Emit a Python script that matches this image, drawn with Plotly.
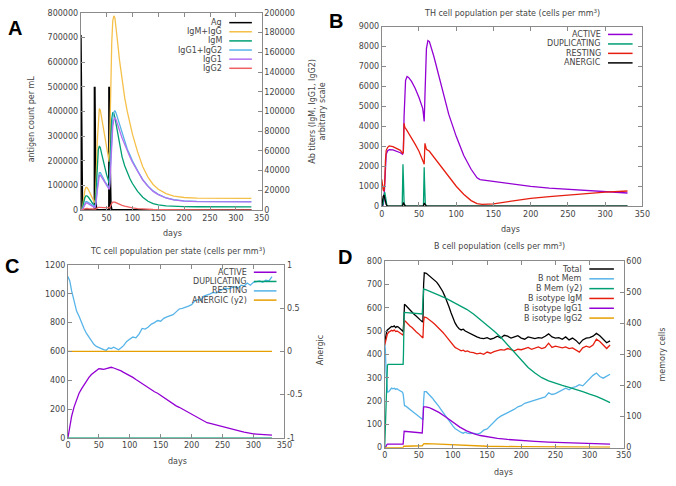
import plotly.graph_objects as go

W, H = 676, 486

# ---------------- Panel A data ----------------
A_days = [0, 2, 4, 6, 8, 10, 12, 15, 18, 21, 24, 27, 28, 29, 30, 32, 34, 36, 38, 41, 44, 47, 50, 53, 55, 56, 57, 58, 60, 62, 64, 66, 68, 71, 75, 80, 85, 90, 95, 100, 110, 120, 130, 140, 150, 165, 180, 200, 225, 250, 280, 310, 330]
A_igm_igg = [0, 500, 5000, 13000, 20000, 23000, 23000, 20500, 17000, 13000, 10000, 7500, 9000, 18000, 34000, 69000, 94000, 103000, 101000, 91500, 80000, 70000, 62000, 54000, 49000, 67000, 98000, 129000, 170000, 192000, 197000, 195000, 187000, 172000, 152000, 131000, 114000, 100000, 88000, 77000, 59000, 44000, 33500, 26000, 21200, 16700, 14200, 12800, 12200, 11900, 11900, 11900, 11900]
A_igm = [0, 500, 3500, 8500, 12500, 14500, 14500, 13000, 10500, 8000, 6000, 4500, 5500, 12000, 24000, 47000, 61000, 65000, 63000, 56000, 48000, 41000, 36000, 31000, 27000, 40000, 58000, 74000, 92000, 99000, 98000, 94000, 88000, 78000, 66000, 54000, 45000, 38000, 32000, 27000, 19000, 13000, 9000, 6500, 5200, 4200, 3700, 3500, 3400, 3300, 3300, 3300, 3300]
A_igg12 = [0, 0, 1500, 4500, 7500, 8500, 8500, 7500, 6500, 5000, 4000, 3000, 3500, 6000, 10000, 22000, 33000, 38000, 38000, 35500, 32000, 29000, 26500, 24000, 22500, 27000, 40000, 55000, 78000, 93000, 99000, 101000, 99000, 94000, 86000, 77000, 69000, 62000, 56000, 50000, 40000, 31000, 24500, 19500, 16000, 12500, 10500, 9300, 8800, 8600, 8600, 8600, 8600]
A_igg1 = [0, 0, 1200, 3800, 6300, 7200, 7200, 6300, 5500, 4200, 3300, 2500, 3000, 5000, 8500, 19500, 30000, 35000, 35500, 33000, 30000, 27000, 24500, 22200, 21000, 24000, 35000, 48000, 70000, 85000, 91500, 93500, 92000, 88000, 81000, 73000, 66000, 59500, 54000, 48500, 39000, 30500, 24000, 19000, 15700, 12300, 10300, 9100, 8600, 8400, 8400, 8400, 8400]
A_igg2 = [0, 0, 300, 900, 1400, 1600, 1600, 1400, 1200, 900, 700, 500, 600, 1000, 1500, 2300, 2700, 2800, 2700, 2500, 2300, 2100, 1900, 1800, 1700, 2200, 3500, 5000, 7000, 8000, 8300, 8100, 7600, 6800, 5800, 4800, 4000, 3300, 2700, 2200, 1500, 1000, 750, 600, 500, 400, 300, 250, 220, 200, 200, 200, 200]
A_ag_days = [0, 0.5, 1, 1.5, 2, 3, 26.9, 27, 27.5, 28, 28.5, 29, 30, 54.9, 55, 55.5, 56, 56.5, 57, 58, 60, 330]
A_ag = [710000, 500000, 300000, 120000, 30000, 0, 0, 500000, 400000, 250000, 100000, 30000, 0, 0, 500000, 420000, 300000, 200000, 100000, 20000, 0, 0]

# ---------------- Panel B data ----------------
B_act_days = [0, 2, 3, 4, 5, 6, 8, 10, 15, 20, 25, 28, 29, 30, 31, 32, 34, 36, 40, 45, 50, 55, 56, 57, 58, 59, 60, 62, 64, 70, 80, 90, 100, 110, 120, 128, 132, 150, 175, 200, 225, 250, 275, 300, 330]
B_active = [0, 50, 300, 1200, 2200, 2600, 2780, 2830, 2820, 2760, 2680, 2600, 2700, 4500, 5800, 6300, 6500, 6450, 6250, 5900, 5450, 4900, 4600, 4250, 5500, 7000, 7900, 8300, 8250, 7500, 6000, 4600, 3500, 2550, 1850, 1420, 1330, 1230, 1100, 990, 900, 840, 780, 720, 660]
B_rest_days = [0, 1, 2, 3, 4, 5, 6, 8, 10, 15, 20, 25, 28, 29, 30, 31, 33, 40, 45, 50, 55, 56, 57, 58, 59, 60, 64, 70, 80, 90, 100, 110, 120, 128, 135, 150, 175, 200, 225, 250, 275, 300, 330]
B_resting = [1350, 1000, 800, 750, 1200, 2300, 2800, 2950, 3020, 2980, 2900, 2800, 2650, 2700, 4150, 3950, 3850, 3450, 3100, 2750, 2350, 2200, 2100, 3150, 3000, 2850, 2750, 2450, 1950, 1450, 1000, 600, 280, 130, 90, 120, 250, 390, 480, 560, 640, 700, 760]
B_dup_days = [0, 2, 3, 4, 5, 6, 7, 27.5, 28, 28.5, 29, 30, 31, 56, 56.5, 57, 57.5, 58.5, 60, 330]
B_dup = [0, 100, 500, 700, 500, 100, 0, 0, 800, 2100, 1500, 200, 0, 0, 1000, 1950, 1200, 100, 0, 0]
B_anr_days = [0, 1, 2, 3, 4, 5, 6, 8, 28, 29, 30, 31, 32, 56, 57, 58, 59, 60, 330]
B_anergic = [0, 300, 500, 550, 450, 250, 80, 0, 0, 180, 100, 20, 0, 0, 150, 100, 20, 0, 0]

# ---------------- Panel C data ----------------
C_days = [0, 3, 6, 10, 14, 18, 22, 26, 30, 34, 38, 42, 46, 50, 54, 58, 62, 66, 70, 74, 78, 82, 86, 90, 95, 100, 105, 110, 115, 120, 125, 130, 135, 140, 145, 150, 155, 160, 165, 170, 175, 180, 185, 190, 195, 200, 205, 210, 215, 220, 225, 230, 235, 240, 245, 250, 255, 260, 265, 270, 275, 280, 285, 290, 295, 300, 305, 310, 315, 320, 325, 330]
C_resting = [1120, 1090, 1020, 940, 880, 845, 800, 760, 725, 700, 680, 650, 635, 625, 620, 612, 608, 625, 620, 630, 618, 612, 625, 640, 670, 685, 700, 695, 720, 760, 755, 770, 790, 800, 815, 810, 830, 840, 850, 855, 875, 895, 900, 905, 915, 925, 950, 960, 955, 985, 990, 1000, 1010, 1005, 1020, 1030, 1040, 1035, 1045, 1050, 1040, 1060, 1055, 1075, 1060, 1080, 1085, 1090, 1080, 1095, 1090, 1120]
C_active = [0, 80, 150, 215, 270, 310, 340, 370, 400, 420, 440, 455, 470, 480, 478, 475, 480, 485, 490, 485, 480, 470, 465, 455, 445, 435, 420, 405, 390, 380, 365, 345, 330, 320, 310, 295, 280, 262, 248, 235, 222, 212, 200, 188, 172, 160, 150, 140, 125, 112, 105, 100, 94, 88, 82, 76, 70, 64, 60, 55, 50, 45, 40, 35, 32, 28, 26, 24, 22, 20, 19, 18]
C_flat_days = [0, 330]
C_dup = [0, 0]
C_anergic = [0, 0]
C_y2_tickvals = [-1, -0.5, 0, 0.5, 1]
C_y2_ticktext = ["-1", "-0.5", "0", "0.5", "1"]

# ---------------- Panel D data ----------------
D_days = [0, 1, 2, 3, 4, 6, 8, 10, 12, 14, 16, 18, 20, 22, 24, 26, 27, 28, 29, 31, 34, 37, 40, 43, 46, 49, 52, 55, 56, 57, 58, 61, 64, 67, 70, 73, 76, 79, 82, 85, 88, 91, 94, 97, 100, 103, 106, 109, 112, 115, 118, 121, 125, 130, 135, 140, 145, 150, 155, 160, 165, 170, 175, 180, 185, 190, 195, 200, 205, 210, 215, 220, 225, 230, 235, 240, 245, 250, 255, 260, 265, 270, 275, 280, 285, 290, 295, 300, 305, 310, 315, 320, 325, 330]
D_total = [450, 470, 490, 500, 505, 510, 515, 520, 518, 522, 515, 520, 517, 512, 505, 500, 498, 540, 615, 610, 600, 590, 580, 572, 565, 555, 548, 540, 545, 700, 750, 748, 740, 735, 728, 720, 710, 698, 685, 670, 650, 630, 605, 580, 555, 535, 520, 510, 505, 508, 500, 495, 490, 480, 475, 470, 468, 472, 465, 470, 478, 470, 482, 478, 470, 475, 480, 470, 465, 475, 470, 468, 472, 470, 478, 488, 475, 470, 472, 465, 475, 462, 470, 460, 445, 462, 470, 472, 478, 490, 480, 465, 450, 458]
D_igm = [440, 455, 470, 480, 488, 495, 500, 503, 500, 505, 498, 500, 497, 493, 490, 485, 482, 510, 545, 540, 530, 522, 515, 505, 497, 490, 480, 472, 470, 540, 560, 558, 552, 545, 538, 530, 522, 515, 505, 495, 485, 473, 462, 450, 440, 430, 425, 418, 415, 418, 412, 415, 410, 408, 402, 405, 400, 410, 405, 412, 415, 420, 418, 425, 420, 415, 422, 420, 425, 430, 422, 428, 432, 425, 430, 448, 430, 435, 430, 428, 432, 425, 428, 420, 410, 428, 435, 430, 440, 465, 455, 440, 425, 440]
D_notmem = [450, 420, 330, 250, 238, 240, 250, 255, 252, 255, 250, 253, 248, 245, 240, 238, 230, 185, 180, 178, 170, 163, 158, 150, 143, 137, 130, 122, 120, 200, 240, 240, 232, 222, 212, 200, 190, 178, 165, 152, 140, 128, 115, 103, 92, 82, 75, 70, 65, 62, 66, 62, 60, 62, 58, 62, 75, 80, 95, 110, 125, 135, 142, 148, 155, 165, 175, 180, 190, 195, 200, 205, 210, 215, 218, 235, 228, 232, 240, 245, 255, 248, 258, 262, 270, 265, 280, 295, 310, 320, 305, 298, 305, 315]
D_mem_days = [0, 1, 2, 3, 4, 5, 27, 27.5, 28, 28.5, 55, 55.5, 56, 56.5, 57, 60, 70, 80, 90, 100, 110, 120, 130, 140, 150, 160, 170, 180, 190, 200, 210, 220, 230, 240, 250, 260, 270, 280, 290, 300, 310, 320, 330]
D_mem = [0, 60, 150, 230, 265, 268, 268, 300, 420, 435, 430, 460, 490, 505, 510, 508, 500, 490, 480, 468, 456, 445, 430, 412, 395, 375, 355, 330, 305, 280, 258, 240, 225, 215, 207, 200, 194, 188, 180, 172, 165, 155, 145]
D_igg1_days = [0, 2, 3, 4, 27, 28, 28.5, 55, 56, 57, 60, 65, 70, 80, 90, 100, 110, 120, 130, 140, 150, 165, 180, 200, 220, 240, 260, 280, 300, 330]
D_igg1 = [0, 5, 12, 15, 15, 50, 70, 63, 120, 175, 175, 172, 165, 150, 130, 108, 88, 72, 60, 52, 46, 40, 35, 30, 27, 24, 22, 20, 18, 15]
D_igg2_days = [0, 27, 28, 55, 57, 60, 80, 100, 120, 150, 200, 250, 330]
D_igg2 = [0, 1, 6, 8, 16, 17, 15, 12, 9, 6, 4, 3, 2]

# ---------------- colours ----------------
BLACK = "#000000"
YELLOW = "#f5c04a"
GREEN = "#009e73"
LBLUE = "#56b4e9"
LVIOLET = "#b070f0"
LRED = "#f06060"
PURPLE = "#9400d3"
RED = "#e51e10"
ORANGE = "#e69f00"

FONT = "DejaVu Sans"
TXT = "#444444"
AX = "#8a8a8a"

fig = go.Figure()

def fx(p):
    return p / W

def fy(p):
    return 1 - p / H

def line(x, y, color, xa, ya, w=1.3):
    fig.add_trace(go.Scatter(x=x, y=y, mode="lines", line=dict(color=color, width=w),
                             xaxis=xa, yaxis=ya, showlegend=False, hoverinfo="skip"))

# Panel A
line(A_days, A_igm_igg, YELLOW, "x", "y2")
line(A_days, A_igm, GREEN, "x", "y2")
line(A_days, A_igg12, LBLUE, "x", "y2")
line(A_days, A_igg1, LVIOLET, "x", "y2")
line(A_days, A_igg2, LRED, "x", "y2")
line(A_ag_days, A_ag, BLACK, "x", "y", 2)

# Panel B
line(B_act_days, B_active, PURPLE, "x2", "y3")
line(B_dup_days, B_dup, GREEN, "x2", "y3")
line(B_rest_days, B_resting, RED, "x2", "y3")
line(B_anr_days, B_anergic, BLACK, "x2", "y3")

# Panel C
line(C_days, C_active, PURPLE, "x3", "y4")
line(C_flat_days, C_dup, GREEN, "x3", "y4")
line(C_days, C_resting, LBLUE, "x3", "y4")
line(C_flat_days, C_anergic, ORANGE, "x3", "y5")

# Panel D
line(D_days, D_total, BLACK, "x4", "y6")
line(D_days, D_notmem, LBLUE, "x4", "y6")
line(D_mem_days, D_mem, GREEN, "x4", "y7")
line(D_days, D_igm, RED, "x4", "y6")
line(D_igg1_days, D_igg1, PURPLE, "x4", "y6")
line(D_igg2_days, D_igg2, ORANGE, "x4", "y6")

tickfont = dict(family=FONT, size=8, color=TXT)

def xax(x0, x1, anchor):
    return dict(domain=[fx(x0), fx(x1)], range=[0, 350], dtick=50, tick0=0,
                showline=True, mirror="ticks", linecolor=AX, linewidth=1,
                ticks="inside", ticklen=4, tickcolor=AX, showgrid=False,
                zeroline=False, tickfont=tickfont, anchor=anchor, fixedrange=True,
                tickformat="d")

def yax(y0, y1, rng, dtick, anchor, mirror="ticks", side="left", overlaying=None):
    d = dict(domain=[fy(y1), fy(y0)], range=rng, dtick=dtick, tick0=rng[0],
             showline=True, mirror=mirror, linecolor=AX, linewidth=1,
             ticks="inside", ticklen=4, tickcolor=AX, showgrid=False,
             zeroline=False, tickfont=tickfont, anchor=anchor, side=side,
             fixedrange=True, tickformat="d")
    if overlaying:
        d["overlaying"] = overlaying
    return d

# pixel frames
A = (79, 263, 9, 210)
B = (385, 650, 23, 206)
C = (66, 286, 266, 442)
D = (388, 631, 262, 452)

yc2 = yax(C[2], C[3], [-1, 1], 0.5, "x3", mirror=False, side="right", overlaying="y4")
yc2.pop("tickformat")
yc2.pop("dtick")
yc2.update(tickmode="array", tickvals=C_y2_tickvals, ticktext=C_y2_ticktext)

layout = dict(
    width=W, height=H, margin=dict(l=0, r=0, t=0, b=0),
    paper_bgcolor="white", plot_bgcolor="white", showlegend=False,
    xaxis=xax(A[0], A[1], "y"),
    yaxis=yax(A[2], A[3], [0, 800000], 100000, "x", mirror=False),
    yaxis2=yax(A[2], A[3], [0, 200000], 20000, "x", mirror=False, side="right", overlaying="y"),
    xaxis2=xax(B[0], B[1], "y3"),
    yaxis3=yax(B[2], B[3], [0, 9000], 1000, "x2"),
    xaxis3=xax(C[0], C[1], "y4"),
    yaxis4=yax(C[2], C[3], [0, 1200], 200, "x3", mirror=False),
    yaxis5=yc2,
    xaxis4=xax(D[0], D[1], "y6"),
    yaxis6=yax(D[2], D[3], [0, 800], 100, "x4", mirror=False),
    yaxis7=yax(D[2], D[3], [0, 600], 100, "x4", mirror=False, side="right", overlaying="y6"),
)
fig.update_layout(**layout)

ann = []
shapes = []

def text(px, py, s, size=8, angle=0, xanchor="center", color=TXT, bold=False, family=FONT):
    ann.append(dict(x=fx(px), y=fy(py), xref="paper", yref="paper", text=("<b>%s</b>" % s) if bold else s,
                    showarrow=False, textangle=angle, xanchor=xanchor, yanchor="middle",
                    font=dict(family=family, size=size, color=color)))

def legend(xr, lx0, lx1, rows, names, colors):
    for yy, n, c in zip(rows, names, colors):
        text(xr, yy, n, xanchor="right")
        shapes.append(dict(type="line", xref="paper", yref="paper", x0=fx(lx0), x1=fx(lx1),
                           y0=fy(yy), y1=fy(yy), line=dict(color=c, width=1.5)))

legend(225, 230, 253, [19, 28.3, 37.6, 46.9, 56.2, 65.5],
       ["Ag", "IgM+IgG", "IgM", "IgG1+IgG2", "IgG1", "IgG2"],
       [BLACK, YELLOW, GREEN, LBLUE, LVIOLET, LRED])
legend(610, 615, 640, [31, 40.7, 50.3, 60],
       ["ACTIVE", "DUPLICATING", "RESTING", "ANERGIC"],
       [PURPLE, GREEN, RED, BLACK])
legend(250, 255, 278, [273.3, 282.7, 292.3, 301.7],
       ["ACTIVE", "DUPLICATING", "RESTING", "ANERGIC (y2)"],
       [PURPLE, GREEN, LBLUE, ORANGE])
legend(591, 596, 621, [270, 280, 290, 300, 310, 320],
       ["Total", "B not Mem", "B Mem (y2)", "B isotype IgM", "B isotype IgG1", "B isotype IgG2"],
       [BLACK, LBLUE, GREEN, RED, PURPLE, ORANGE])

# axis titles
text(29, 117, "antigen count per mL", angle=-90)
text(320, 109, "Ab titers (IgM, IgG1, IgG2)<br>arbitrary scale", angle=-90)
text(172, 234, "days")
text(517, 9, "TH cell population per state (cells per mm<sup>3</sup>)")
text(516, 230, "days")
text(177, 252, "TC cell population per state (cells per mm<sup>3</sup>)")
text(177, 466, "days")
text(323, 353, "Anergic", angle=-90)
text(505, 247, "B cell population (cells per mm<sup>3</sup>)")
text(509, 477, "days")
text(670, 357, "memory cells", angle=-90)

# panel labels
for px, py, s in [(12, 24, "A"), (339, 17, "B"), (9, 267, "C"), (348, 258, "D")]:
    text(px, py, s, size=20, color="#000000", bold=True, family="Liberation Sans")

fig.update_layout(annotations=ann, shapes=shapes)
fig.write_html("out.html")
